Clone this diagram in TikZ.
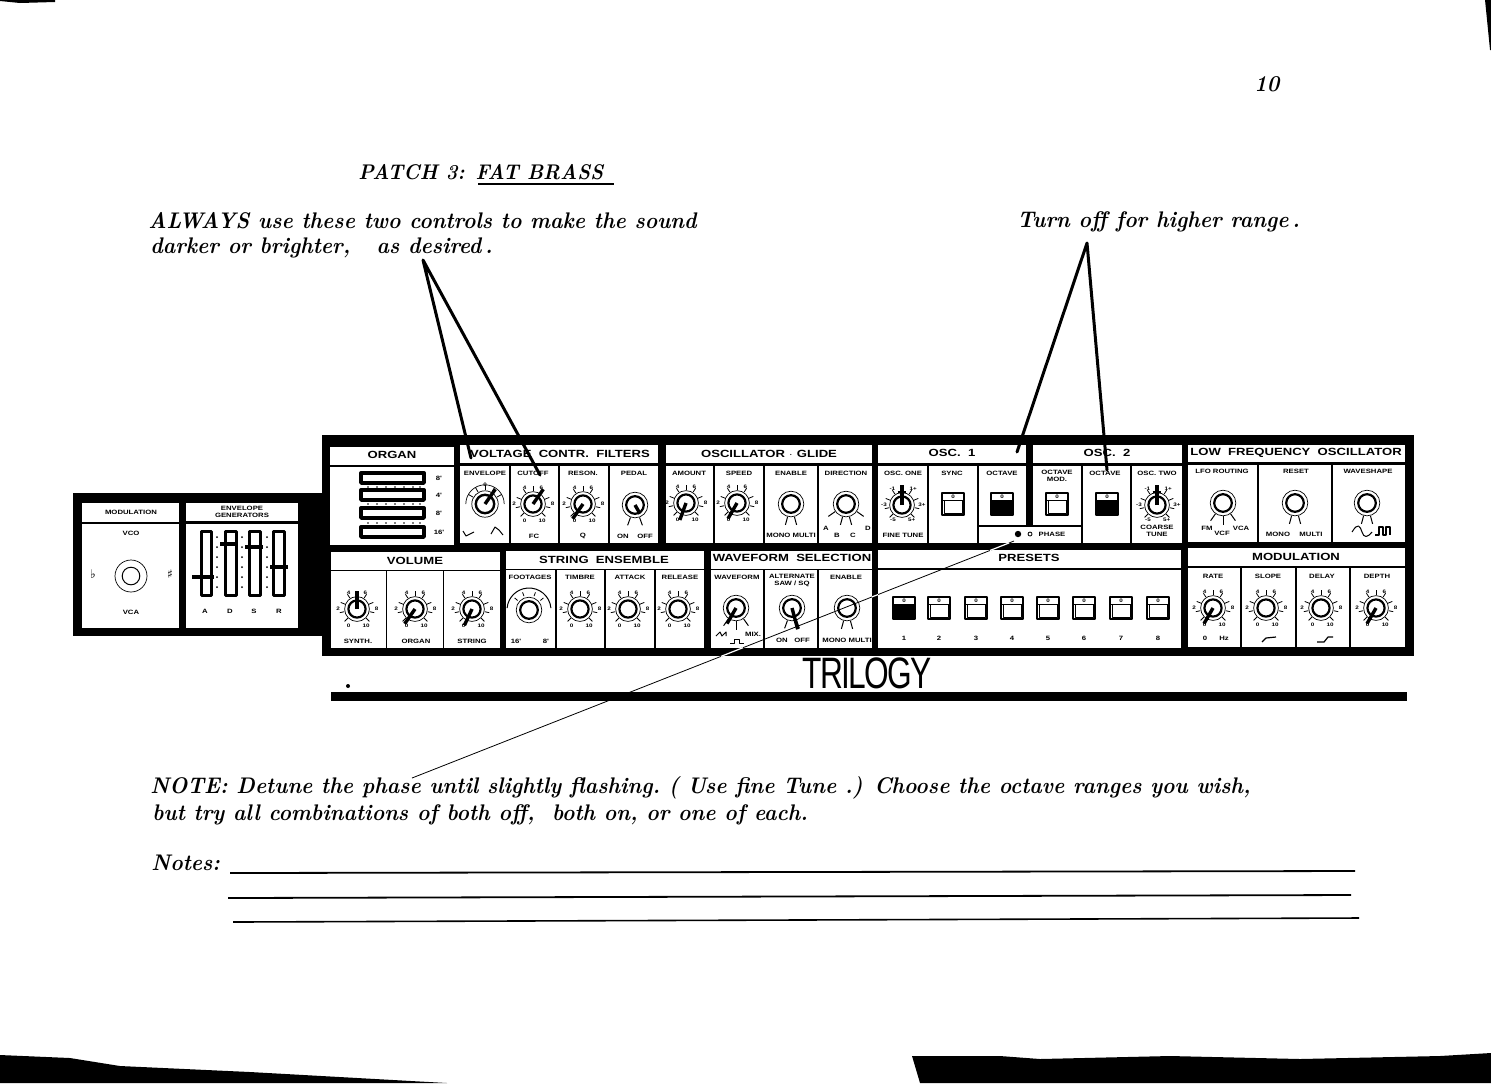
\documentclass[tikz,border=0pt]{standalone}
\usepackage{fontspec}
\usetikzlibrary{calc}
\newfontfamily\notefont[FakeStretch=0.935]{Latin Modern Roman}
\newfontfamily\titlefont[FakeStretch=1.26,BoldFont={Liberation Sans Bold}]{Liberation Sans}
\newfontfamily\smallfont[FakeStretch=1.25,BoldFont={Liberation Sans Bold}]{Liberation Sans}
\newfontfamily\logofont[FakeStretch=0.72,LetterSpace=-4]{Liberation Sans}
\newfontfamily\symfont{DejaVu Sans}
\tikzset{
  dial/.pic={
    \draw[line width=.35pt] (0,0) circle (6.2pt);
    \draw[line width=1.1pt] (0,0) circle (4.3pt);
    \foreach \a in {-45,-12,22,57,90,123,158,192,225}{
      \draw[line width=.4pt] (\a:6.5pt) -- (\a:8.8pt);
    }
    \node[tinylabel] (-zero) at (-4.2pt,-8.2pt) {0};
    \node[tinylabel] (-ten) at (4.6pt,-8.2pt) {10};
    \node[tinylabel] (-two) at (-9.4pt,0) {2};
    \node[tinylabel] (-four) at (-4.2pt,8pt) {4};
    \node[tinylabel] (-six) at (4.2pt,8pt) {6};
    \node[tinylabel] (-eight) at (9.8pt,0) {8};
  },
  octdial/.pic={
    \draw[line width=.35pt] (0,0) circle (6.2pt);
    \draw[line width=1.1pt] (0,0) circle (4.3pt);
    \foreach \a in {-45,-12,22,57,123,158,192,225}{
      \draw[line width=.4pt] (\a:6.5pt) -- (\a:8.8pt);
    }
    \node[tinylabel] (-lo) at (-4.5pt,-7.4pt) {-5};
    \node[tinylabel] (-hi) at (4.8pt,-7.4pt) {5+};
    \node[tinylabel] (-left) at (-9pt,0) {-3};
    \node[tinylabel] (-tl) at (-4.8pt,8pt) {-1};
    \node[tinylabel] (-tr) at (5.6pt,8pt) {1+};
    \node[tinylabel] (-right) at (10pt,0) {3+};
  },
  selector/.pic={
    \draw[line width=.35pt] (0,0) circle (6.4pt);
    \draw[line width=1.1pt] (0,0) circle (4.4pt);
    \foreach \a in #1{
      \draw[line width=.5pt] (\a:6.6pt) -- (\a:10.8pt);
    }
  },
  keyswitch/.pic={
    \draw[line width=.6pt,fill=white] (0,0) rectangle (11pt,11pt);
    \draw[line width=.6pt] (0,7.4pt) -- (11pt,7.4pt);
    \node[tinylabel] (-mark) at (5.5pt,9.2pt) {0};
    \draw[line width=.5pt] (1pt,7.4pt) -- (1pt,1pt) -- (10pt,1pt) -- (10pt,7.4pt);
  },
  tinylabel/.style={font=\smallfont\bfseries\fontsize{2.5}{2.5}\selectfont,inner sep=0pt}
}
\begin{document}
\begin{tikzpicture}[x=0.5pt,y=-0.5pt,line join=round]
\tikzstyle{notetext} = [font=\notefont\bfseries\itshape\fontsize{11.3}{12}\selectfont,anchor=base west,inner sep=0pt]
\tikzstyle{paneltitle} = [font=\titlefont\bfseries\fontsize{5.2}{5.2}\selectfont,inner sep=0pt]
\tikzstyle{smalllabel} = [font=\smallfont\bfseries\fontsize{3.1}{3.5}\selectfont,inner sep=0pt,align=center]
\tikzstyle{pointer} = [line width=1.7pt,line cap=butt]
\tikzstyle{callout} = [line width=1.5pt,line cap=round]
\tikzstyle{ruleline} = [line width=.6pt]
  \useasboundingbox (0,0) rectangle (1491,1083);
  % page edges
  \fill (0,0) -- (55,0) -- (55,2) -- (20,3) -- (0,1) -- cycle;
  \fill (1485,0) -- (1491,0) -- (1491,50) -- (1490,50) -- cycle;
  \fill (0,1055) -- (70,1058) -- (120,1066) -- (250,1072) -- (447,1083) -- (0,1083) -- cycle;
  \fill (912,1056) -- (920,1083) -- (1491,1083) -- (1491,1053) -- (1440,1056) -- (1300,1059)
    -- (1170,1056) -- (1040,1059) -- (1000,1056) -- cycle;
  % panel
  \fill (73,493) rectangle (330,636);
  \fill (322,435) rectangle (1414,656);
  \foreach \xa/\ya/\xb/\yb in {
    82/503/179/522, 82/524/179/628, 186/503/298/521, 186/524/298/628,
    330/447/454/465, 330/467/454/545,
    460/445/658/463, 460/466/509/543, 511/466/558/543, 560/466/608/543, 610/466/658/543,
    666/445/872/463, 666/466/713/543, 715/466/763/543, 765/466/817/543, 819/466/872/543,
    878/445/1026/463, 878/466/927/543, 929/466/977/543, 979/466/1026/525, 979/527/1081/543,
    1033/445/1182/463, 1033/466/1081/525, 1083/466/1130/543, 1132/466/1182/543,
    1188/445/1405/462, 1188/465/1257/542, 1259/465/1331/542, 1333/465/1405/542,
    331/552/500/570, 331/571/386/648, 387/571/443/648, 444/571/500/648,
    506/551/704/569, 506/570/555/648, 557/570/604/648, 606/570/654/648, 656/570/704/648,
    711/551/872/569, 711/570/763/648, 765/570/817/648, 819/570/872/648,
    878/550/1181/568, 878/570/1181/648,
    1188/548/1405/566, 1188/568/1240/647, 1242/568/1295/647, 1297/568/1349/647, 1351/568/1405/647}{
    \fill[white] (\xa,\ya) rectangle (\xb,\yb);
  }
  % titles
  \foreach \nm/\x/\y/\txt in {
    organtitle/392/455/ORGAN, vcftitle/560/454/VOLTAGE\ \ CONTR.\ \ FILTERS,
    glidetitle/769/454/OSCILLATOR\ $\cdot$\ GLIDE, oneosctitle/952/453/OSC.\ \ 1, twoosctitle/1107/453/OSC.\ \ 2,
    lfotitle/1296/453/LOW\ \ FREQUENCY\ \ OSCILLATOR, voltitle/415/561/VOLUME,
    stringtitle/604/560/STRING\ \ ENSEMBLE, wavetitle/792/558/WAVEFORM\ \ SELECTION,
    presettitle/1029/558/PRESETS, lfomodtitle/1296/557/MODULATION}{
    \node[paneltitle] (\nm) at (\x,\y) {\txt};
  }
  % small labels
  \foreach \nm/\x/\y/\txt in {
    modtitle/131/512/MODULATION,
    envgen/242/512/{ENVELOPE\\GENERATORS}, vcolab/131/533/VCO, vcalab/131/612/VCA,
    alab/205/611/A, dlab/230/611/D, slab/254/611/S, rlab/279/611/R,
    envlab/485/473/ENVELOPE, cutlab/533/473/CUTOFF, reslab/583/473/RESON., pedlab/634/473/PEDAL,
    amtlab/689/473/AMOUNT, spdlab/739/473/SPEED, enblab/791/473/ENABLE, dirlab/846/473/DIRECTION,
    onelab/903/473/OSC.\ ONE, synclab/952/473/SYNC, octlab/1002/473/OCTAVE,
    modlab/1057/476/{OCTAVE\\MOD.}, octtwolab/1105/473/OCTAVE, twolab/1157/473/OSC.\ TWO,
    routlab/1222/471/LFO\ ROUTING, rstlab/1296/471/RESET, shapelab/1368/471/WAVESHAPE,
    fclab/534/536/FC, qlab/583/536/Q, onlab/623/536/ON, offlab/645/536/OFF,
    monolab/791/535/MONO\ MULTI, alpha/826/528/A, blab/837/535/B, clab/853/535/C, dalpha/868/528/D,
    finelab/903/535/FINE\ TUNE, coarselab/1157/531/{COARSE\\TUNE}, phaselab/1052/534/PHASE,
    fmlab/1207/528/FM, vcflab/1222/533/VCF, vcatwo/1241/528/VCA, monotwo/1278/534/MONO, multitwo/1311/534/MULTI,
    synthlab/358/641/SYNTH., orglab/416/641/ORGAN, strlab/472/641/STRING,
    ftlab/516/641/16', eightlab/546/641/8',
    footlab/530/577/FOOTAGES, timblab/580/577/TIMBRE, attlab/630/577/ATTACK, rellab/680/577/RELEASE,
    wavelab/737/577/WAVEFORM, altlab/792/580/{ALTERNATE\\SAW / SQ}, enbtwo/846/577/ENABLE,
    mixlab/753/634/MIX., ontwo/782/640/ON, offtwo/802/640/OFF, monothree/847/640/MONO\ MULTI,
    ratelab/1213/576/RATE, slopelab/1268/576/SLOPE, delaylab/1322/576/DELAY, depthlab/1377/576/DEPTH,
    zerohz/1205/638/0, hzlab/1224/638/Hz,
    eighta/439/478/8', foura/439/495/4', eightb/439/513/8', sixteen/439/532/16'}{
    \node[smalllabel] (\nm) at (\x,\y) {\txt};
  }
  % dials
  \foreach \nm/\x/\y/\ang in {
    cutoff/533/504/55, reson/583/504/235, amount/686/503/250, speed/737/503/240,
    synth/357/609/90, organ/415/609/235, string/472/609/245,
    rate/1213/608/240, depth/1376/608/240}{
    \coordinate (\nm) at (\x,\y);
    \pic (\nm) at (\nm) {dial};
    \draw[pointer] (\nm) -- ++(\ang:9pt);
  }
  \foreach \nm/\x/\y in {timbre/580/609, attack/628/609, release/678/609, slope/1266/608, delay/1321/608}{
    \coordinate (\nm) at (\x,\y);
    \pic (\nm) at (\nm) {dial};
  }
  \foreach \nm/\x/\y in {oscone/902/505, osctwo/1157/505}{
    \coordinate (\nm) at (\x,\y);
    \pic (\nm) at (\nm) {octdial};
    \draw[pointer] (\nm) -- ++(90:10pt);
    \draw[line width=1.2pt] ($(\nm)+(-2.2pt,6.5pt)$) -- ($(\nm)+(2.2pt,6.5pt)$);
  }
  % selector knobs
  \foreach \nm/\x/\y/\legs in {
    pedal/635/505/{250,290}, enable/791/504/{255,285}, direct/846/504/{215,255,285,325},
    routing/1223/503/{235,270,305}, reset/1295/503/{255,285}, shape/1367/503/{255,285},
    waveform/736/608/{235,270,305}, altern/792/608/{250,290}, entwo/847/608/{255,285}}{
    \coordinate (\nm) at (\x,\y);
    \pic at (\nm) {selector=\legs};
  }
  \draw[pointer] (pedal) -- ++(-60:5pt);
  \draw[pointer] (waveform) -- ++(240:9pt);
  \draw[pointer] (altern) -- ++(285:11pt);
  % envelope and footages knobs
  \coordinate (envknob) at (485,504);
  \draw[line width=.35pt] (envknob) circle (6.6pt);
  \draw[line width=1.2pt] (envknob) circle (4.6pt);
  \draw[line width=.35pt] ($(envknob)+(0:9.6pt)$) arc (0:180:9.6pt);
  \foreach \a in {30,60,90,120,150}{
    \draw[line width=.4pt] ($(envknob)+(\a:7pt)$) -- ($(envknob)+(\a:9.6pt)$);
  }
  \draw[pointer] (envknob) -- ++(55:9pt);
  \node[tinylabel] (envtop) at (485,485) {0};
  \draw[line width=.5pt] (463,531) -- (466,536) -- (474,532);
  \draw[line width=.5pt] (491,534) -- (495,527) -- (499,530) -- (503,535);
  \coordinate (footknob) at (529,610);
  \draw[line width=.35pt] (footknob) circle (6.4pt);
  \draw[line width=1.1pt] (footknob) circle (4.4pt);
  \draw[line width=.5pt] ($(footknob)+(5:11pt)$) arc (5:175:11pt);
  \foreach \a in {40,70,110,140}{
    \draw[line width=.4pt] ($(footknob)+(\a:7.4pt)$) -- ($(footknob)+(\a:9.4pt)$);
  }
  % modulation wheel
  \coordinate (modwheel) at (131,576);
  \draw[line width=.35pt] (modwheel) circle (8pt);
  \draw[line width=.5pt] (modwheel) circle (4.4pt);
  \node[font=\symfont\fontsize{6}{6}\selectfont,inner sep=0pt] (flatmark) at (93,574) {♭};
  \node[font=\symfont\fontsize{6}{6}\selectfont,inner sep=0pt] (sharpmark) at (170,574) {♯};
  % sliders
  \foreach \nm/\xa/\xb/\hy/\ha/\hb in {
    sla/201/211/577/192/214, sld/225/236/544/220/238, sls/249/260/547/245/263, slr/273/284/567/270/288}{
    \draw[line width=1.5pt,fill=white] (\xa,531) rectangle (\xb,595);
    \draw[line width=1.8pt] (\ha,\hy) -- (\hb,\hy);
  }
  \foreach \x in {217,242,267}{
    \foreach \y in {537,547,557,567,577,587}{
      \fill (\x,\y) circle (.5pt);
    }
  }
  % organ bars
  \foreach \y in {478,495,513,532}{
    \draw[line width=1.7pt,fill=white] (361,\y-5) rectangle (424,\y+5);
  }
  \foreach \y in {487,504,523}{
    \foreach \x in {368,377,386,395,404,413,420}{
      \fill (\x,\y) circle (.45pt);
    }
  }
  % switches
  \foreach \nm/\x/\y in {syncsw/942/515, octmodsw/1046/515, presettwo/928/619, presetthree/965/619,
    presetfour/1001/619, presetfive/1037/619, presetsix/1073/619, presetseven/1110/619, preseteight/1147/619}{
    \coordinate (\nm) at (\x,\y);
    \pic (\nm) at (\nm) {keyswitch};
  }
  \foreach \nm/\x/\y in {octsw/991/515, octtwosw/1096/515, presetone/893/619}{
    \coordinate (\nm) at (\x,\y);
    \pic (\nm) at (\nm) {keyswitch};
    \fill ($(\nm)+(.5pt,.5pt)$) rectangle ($(\nm)+(10.5pt,7.4pt)$);
  }
  \foreach \i/\x in {1/904,2/939,3/976,4/1012,5/1048,6/1084,7/1121,8/1158}{
    \node[smalllabel] (num\i) at (\x,638) {\i};
  }
  % phase lights
  \fill (1018,534) circle (1.6pt);
  \draw[line width=.4pt] (1030,534) circle (1pt);
  % small wave marks
  \draw[line width=.5pt] (1352,532) .. controls (1358,522) and (1360,526) .. (1362,532) .. controls (1364,538) and (1367,538) .. (1372,532);
  \draw[line width=.6pt] (1375,535) -- (1379,535) -- (1379,527) -- (1383,527) -- (1383,535) -- (1386,535) -- (1386,527) -- (1390,527) -- (1390,535);
  \draw[line width=.6pt] (1262,642) -- (1266,638) -- (1276,637);
  \draw[line width=.6pt] (1317,642) -- (1324,642) -- (1328,637) -- (1333,637);
  \draw[line width=.5pt] (716,636) -- (720,632) -- (722,636) -- (726,632) -- (726,636);
  \draw[line width=.5pt] (730,643) -- (734,643) -- (734,639) -- (739,639) -- (739,643) -- (744,643);
  % logo and rule
  \node[font=\logofont\fontsize{22}{22}\selectfont,inner sep=0pt,anchor=base] (logo) at (867,688) {TRILOGY};
  \fill (331,692) rectangle (1407,701);
  \fill (348,686) circle (1pt);
  % texts
  \node[notetext] (pageno) at (1254,91) {10};
  \node[notetext,font=\notefont\itshape\bfseries\fontsize{10.6}{12}\selectfont] (patch) at (358,179) {PATCH 3: FAT BRASS};
  \node[notetext] (alwaysa) at (148,228) {ALWAYS use these two controls to make the sound};
  \node[notetext] (alwaysb) at (150,253) {darker or brighter,\ \ \ as desired\,.};
  \node[notetext] (turnoff) at (1017,227) {Turn off for higher range\,.};
  \node[notetext] (notea) at (150,793) {NOTE: Detune the phase until slightly flashing.\ ( Use fine Tune .) Choose the octave ranges you wish,};
  \node[notetext] (noteb) at (152,820) {but try all combinations of both off,\ \ both on,\ or one of each.};
  \node[notetext] (notes) at (151,870) {Notes:};
  \draw[ruleline,line width=1pt] (478,184) -- (614,184);
  \draw[ruleline,line width=.9pt] (230,873) -- (1355,871);
  \draw[ruleline,line width=.9pt] (228,898) -- (1351,895);
  \draw[ruleline,line width=.8pt] (233,922) -- (1359,918);
  % callouts
  \coordinate (darkfrom) at (423,260);
  \coordinate (vcfpoint) at (471,458);
  \coordinate (cutpoint) at (540,475);
  \coordinate (turnfrom) at (1087,243);
  \coordinate (onepoint) at (1017,452);
  \coordinate (twopoint) at (1107,470);
  \draw[callout] (vcfpoint) -- (darkfrom) -- (cutpoint);
  \draw[callout] (onepoint) -- (turnfrom) -- (twopoint);
  \coordinate (phaseend) at (1014,541);
  \coordinate (noteend) at (412,778);
  \draw[line width=.4pt] (phaseend) -- (noteend);
  \draw[line width=.6pt,white] ($(phaseend)!.008!(noteend)$) -- ($(phaseend)!.04!(noteend)$);
  \draw[line width=.6pt,white] ($(phaseend)!.226!(noteend)$) -- ($(phaseend)!.236!(noteend)$);
  \draw[line width=.6pt,white] ($(phaseend)!.45!(noteend)$) -- ($(phaseend)!.487!(noteend)$);
\end{tikzpicture}
\end{document}
